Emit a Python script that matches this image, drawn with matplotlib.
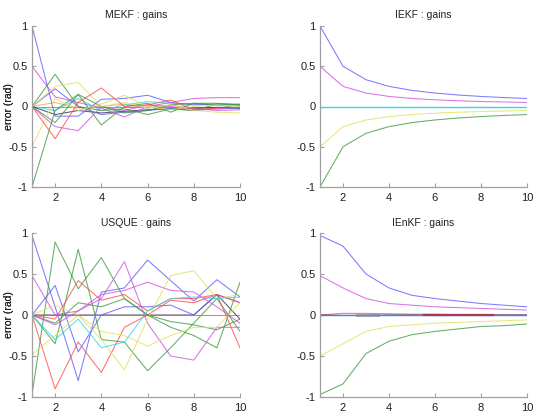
import matplotlib
matplotlib.use("Agg")
import matplotlib.pyplot as plt
import numpy as np

plt.rcParams['font.family'] = ['Liberation Sans', 'DejaVu Sans']

steps = [1, 2, 3, 4, 5, 6, 7, 8, 9, 10]
x_ticks = [2, 4, 6, 8, 10]
y_ticks = [-1, -0.5, 0, 0.5, 1]
y_tick_labels = ['-1', '-0.5', '0', '0.5', '1']
titles = ['MEKF : gains', 'IEKF : gains', 'USQUE : gains', 'IEnKF : gains']
ylabel = 'error (rad)'

C = {'b': '#5a5aff', 'g': '#3c9a3c', 'r': '#ff4a4a', 'c': '#30d8e8',
     'm': '#d050e0', 'y': '#e0e060', 'k': '#303050', 'o': '#f0a060',
     'lb': '#3a86f0'}

# MEKF series
mekf_blue_a = [1.0, -0.12, -0.12, 0.09, 0.10, 0.14, 0.05, 0.02, 0.03, 0.02]
mekf_blue_b = [0.0, 0.22, 0.0, -0.10, -0.07, -0.05, -0.02, -0.05, -0.03, -0.02]
mekf_mag_a = [0.5, 0.12, 0.05, -0.02, -0.13, 0.0, 0.05, 0.10, 0.11, 0.11]
mekf_mag_b = [0.0, -0.25, -0.30, 0.0, -0.05, 0.02, 0.0, -0.02, -0.05, -0.04]
mekf_grn_a = [-1.0, -0.05, 0.15, 0.0, -0.08, -0.05, 0.02, 0.04, 0.04, 0.02]
mekf_grn_b = [0.0, 0.40, 0.0, -0.05, -0.03, -0.10, -0.03, -0.05, 0.03, 0.03]
mekf_grn_c = [0.0, -0.20, 0.15, -0.23, 0.0, 0.04, -0.07, 0.04, 0.02, -0.02]
mekf_yel_a = [0.0, 0.25, 0.30, 0.0, 0.05, -0.02, 0.02, -0.05, -0.07, -0.08]
mekf_yel_b = [-0.5, 0.10, -0.05, 0.03, 0.14, 0.0, -0.04, 0.0, 0.02, 0.0]
mekf_red_a = [0.0, -0.40, 0.05, 0.23, 0.0, 0.02, 0.08, -0.04, -0.02, -0.01]
mekf_red_b = [0.0, 0.0, 0.0, 0.0, 0.0, 0.0, 0.0, 0.0, 0.0, 0.0]
mekf_cyan = [0.0, -0.05, 0.10, -0.05, 0.02, 0.06, 0.04, 0.03, 0.02, 0.01]
mekf_dark = [0.0, -0.10, -0.05, -0.08, -0.06, -0.04, -0.03, -0.02, -0.01, -0.02]
mekf_orng = [0.0, 0.05, -0.02, 0.0, 0.03, -0.02, 0.02, -0.03, -0.02, -0.01]

# IEKF series
iekf_blue = [1.0, 0.50, 0.333, 0.25, 0.20, 0.167, 0.143, 0.125, 0.111, 0.10]
iekf_mag = [0.5, 0.25, 0.167, 0.125, 0.10, 0.083, 0.071, 0.062, 0.056, 0.05]
iekf_cyan = [0.0, 0.0, 0.0, 0.0, 0.0, 0.0, 0.0, 0.0, 0.0, 0.0]
iekf_yel = [-0.5, -0.25, -0.167, -0.125, -0.10, -0.083, -0.071, -0.062, -0.056, -0.05]
iekf_grn = [-1.0, -0.50, -0.333, -0.25, -0.20, -0.167, -0.143, -0.125, -0.111, -0.10]

# USQUE series
usq_blue_a = [0.97, 0.10, -0.80, 0.28, 0.33, 0.67, 0.42, 0.17, 0.43, 0.22]
usq_blue_b = [0.0, 0.36, -0.45, 0.0, 0.10, 0.10, 0.12, 0.0, 0.25, 0.15]
usq_grn_a = [-0.97, 0.89, 0.32, 0.70, 0.20, 0.0, -0.15, -0.25, -0.40, 0.40]
usq_grn_b = [0.0, -0.35, 0.80, -0.30, -0.33, -0.68, -0.40, -0.10, 0.20, -0.20]
usq_grn_c = [0.0, -0.10, 0.15, 0.10, 0.20, 0.0, -0.08, -0.12, -0.18, -0.05]
usq_red_a = [0.0, -0.90, -0.33, -0.70, -0.15, 0.0, 0.18, 0.15, 0.25, -0.40]
usq_red_b = [0.0, -0.05, 0.42, 0.18, 0.25, 0.05, 0.20, 0.20, 0.25, 0.15]
usq_red_c = [0.0, 0.0, 0.0, 0.0, 0.0, 0.0, 0.0, 0.0, 0.0, 0.0]
usq_mag_a = [0.48, 0.0, 0.05, 0.20, 0.65, -0.10, -0.50, -0.55, -0.15, -0.15]
usq_mag_b = [0.0, -0.12, 0.05, 0.25, 0.30, 0.40, 0.30, 0.28, 0.10, -0.10]
usq_yel_a = [-0.48, -0.25, 0.0, -0.30, -0.67, -0.05, 0.48, 0.54, 0.20, 0.25]
usq_yel_b = [0.0, 0.12, 0.0, -0.20, -0.25, -0.38, -0.25, -0.15, -0.15, 0.15]
usq_cyan = [0.0, -0.30, -0.05, -0.40, -0.33, 0.05, 0.20, 0.22, 0.20, 0.22]
usq_dark = [0.0, 0.0, 0.0, 0.0, 0.0, 0.0, 0.0, 0.0, 0.25, -0.05]

# IEnKF series
ienkf_blue = [0.97, 0.84, 0.50, 0.33, 0.24, 0.20, 0.17, 0.14, 0.12, 0.10]
ienkf_mag = [0.48, 0.33, 0.20, 0.14, 0.12, 0.10, 0.09, 0.08, 0.07, 0.06]
ienkf_red = [0.0, 0.02, 0.02, 0.015, 0.01, 0.01, 0.005, 0.005, 0.0, 0.0]
ienkf_navy = [0.0, -0.005, -0.005, 0.0, 0.0, 0.0, 0.0, 0.0, 0.0, 0.0]
ienkf_lblue = [0.0, 0.0, 0.0, 0.0, 0.0, 0.0, 0.0, 0.0, 0.0, 0.0]
ienkf_yel = [-0.50, -0.35, -0.20, -0.14, -0.12, -0.10, -0.09, -0.08, -0.07, -0.06]
ienkf_grn = [-0.97, -0.84, -0.47, -0.32, -0.24, -0.20, -0.17, -0.14, -0.13, -0.11]
ienkf_seg1_x = [2.6, 3.5]
ienkf_seg1_y = [0.0, 0.0]
ienkf_seg2_x = [5.5, 8.5]
ienkf_seg2_y = [0.0, 0.0]

panels = [
    [(mekf_red_b, 'r'), (mekf_orng, 'o'), (mekf_cyan, 'c'), (mekf_dark, 'k'),
     (mekf_blue_a, 'b'), (mekf_blue_b, 'b'), (mekf_mag_a, 'm'), (mekf_mag_b, 'm'),
     (mekf_grn_a, 'g'), (mekf_grn_b, 'g'), (mekf_grn_c, 'g'), (mekf_yel_a, 'y'),
     (mekf_yel_b, 'y'), (mekf_red_a, 'r')],
    [(iekf_blue, 'b'), (iekf_mag, 'm'), (iekf_cyan, 'c'), (iekf_yel, 'y'), (iekf_grn, 'g')],
    [(usq_dark, 'k'), (usq_blue_a, 'b'), (usq_blue_b, 'b'), (usq_grn_a, 'g'), (usq_grn_b, 'g'),
     (usq_grn_c, 'g'), (usq_red_a, 'r'), (usq_red_b, 'r'), (usq_mag_a, 'm'),
     (usq_mag_b, 'm'), (usq_yel_a, 'y'), (usq_yel_b, 'y'), (usq_cyan, 'c'), (usq_red_c, 'r')],
    [(ienkf_blue, 'b'), (ienkf_mag, 'm'), (ienkf_red, 'r'), (ienkf_navy, 'k'),
     (ienkf_lblue, 'lb'), (ienkf_yel, 'y'), (ienkf_grn, 'g')],
]

fig = plt.figure(figsize=(5.34, 4.12), dpi=100)
W, H = 534, 412
boxes = [(32, 26, 240, 187), (320, 26, 527, 187), (32, 233, 240, 397), (320, 233, 527, 397)]
axes = []
for (x0, y0, x1, y1) in boxes:
    ax = fig.add_axes([x0 / W, 1 - y1 / H, (x1 - x0) / W, (y1 - y0) / H])
    axes.append(ax)

for i, ax in enumerate(axes):
    for ys, c in panels[i]:
        flat = c in ('c', 'lb') and i in (1, 3)
        a = 1.0 if flat else 0.8
        lw = 1.0 if flat else 0.75
        ax.plot(steps, ys, color=C[c], lw=lw, alpha=a)
    if i == 3:
        ax.plot(ienkf_seg1_x, ienkf_seg1_y, color='#8888a0', lw=2.2, alpha=0.7)
        ax.plot(ienkf_seg2_x, ienkf_seg2_y, color='#b03050', lw=1.6, alpha=0.9)
    ax.set_xlim(1, 10)
    ax.set_ylim(-1, 1)
    ax.set_xticks(x_ticks)
    ax.set_yticks(y_ticks)
    ax.set_yticklabels(y_tick_labels)
    for s in ['top', 'right']:
        ax.spines[s].set_visible(False)
    for s in ['left', 'bottom']:
        ax.spines[s].set_color('#a0a0a0')
        ax.spines[s].set_linewidth(0.9)
    ax.tick_params(direction='in', length=3, width=0.8, color='#a0a0a0',
                   labelsize=8, labelcolor='#202020')
    ax.tick_params(axis='x', pad=4)
    ax.tick_params(axis='y', pad=3)
    ax.set_title(titles[i], fontsize=7.5, color='#202020', pad=6 if i < 2 else 5)
    ax.set_ylabel(ylabel, fontsize=7.5, color='#202020')
    x0 = boxes[i][0]
    ax.yaxis.set_label_coords((14 - x0) / (boxes[i][2] - x0), 0.5)

fig.savefig('out.png', dpi=100)
